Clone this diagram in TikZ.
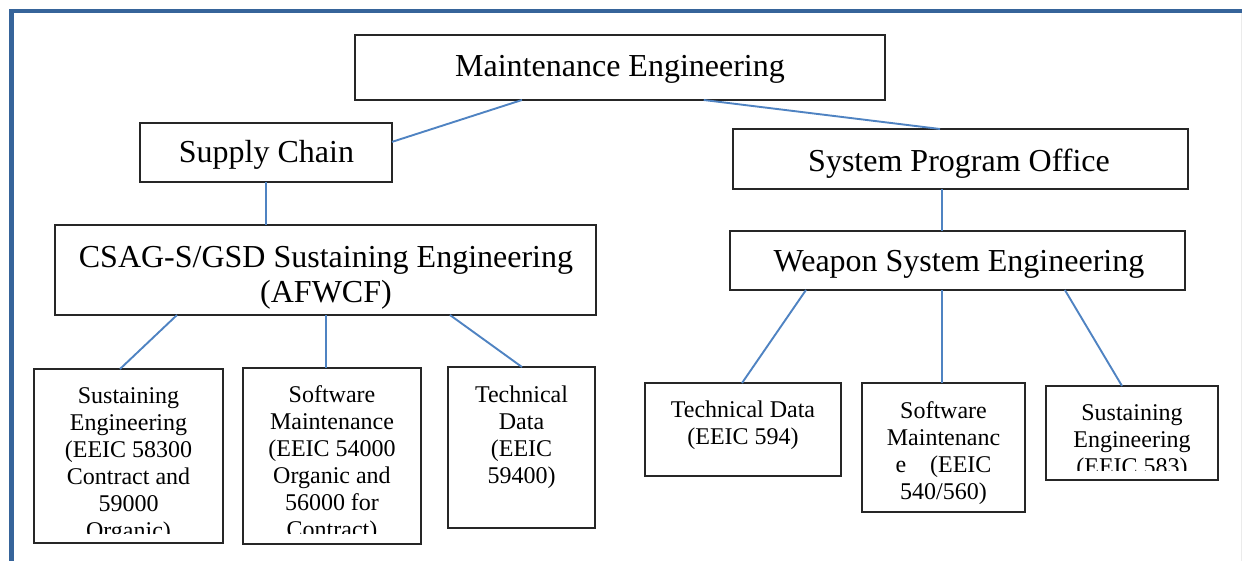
\documentclass[tikz,border=0pt]{standalone}
\usepackage{fontspec}
\setmainfont{Liberation Serif}
\usetikzlibrary{calc}
\definecolor{boxline}{HTML}{262626}
\definecolor{conn}{HTML}{4F83C2}
\definecolor{framec}{HTML}{36649A}
\begin{document}
\begin{tikzpicture}[x=1pt,y=-1pt,
  box/.style={draw=boxline, line width=2.6pt, inner sep=0pt, outer sep=0pt, anchor=north west},
  head/.style={font=\fontsize{32}{35}\selectfont, align=center, anchor=base, inner sep=0pt},
  small/.style={font=\fontsize{24}{27}\selectfont, align=center, anchor=base, inner sep=0pt},
  link/.style={draw=conn, line width=1.9pt}]
\useasboundingbox (0,0) rectangle (1242,561);
% frame
\draw[framec, line width=4.5pt] (11.5,561) -- (11.5,11) -- (1242,11);
\draw[black!8, line width=1pt] (1241,13) -- (1241,561);

% boxes
\node[box, minimum width=530pt, minimum height=65pt] (me) at (355,35) {};
\node[box, minimum width=252pt, minimum height=59pt] (sc) at (140,123) {};
\node[box, minimum width=455pt, minimum height=60pt] (spo) at (733,129) {};
\node[box, minimum width=541pt, minimum height=90pt] (csag) at (55,225) {};
\node[box, minimum width=455pt, minimum height=59pt] (wse) at (730,231) {};
\node[box, minimum width=189pt, minimum height=174pt] (l1) at (34,369) {};
\node[box, minimum width=178pt, minimum height=176pt] (l2) at (243,368) {};
\node[box, minimum width=147pt, minimum height=161pt] (l3) at (448,367) {};
\node[box, minimum width=196pt, minimum height=93pt] (r1) at (645,383) {};
\node[box, minimum width=163pt, minimum height=129pt] (r2) at (862,383) {};
\node[box, minimum width=172pt, minimum height=94pt] (r3) at (1046,386) {};

% header texts (anchor base = baseline of the last line)
\node[head] (met) at (620,77) {Maintenance Engineering};
\node[head] (sct) at (266.5,163) {Supply Chain};
\node[head] (spot) at (959,172) {System Program Office};
\node[head] (csagt) at (326,302) {CSAG-S/GSD Sustaining Engineering\\(AFWCF)};
\node[head] (wset) at (959,272) {Weapon System Engineering};

% bottom texts (anchor base = baseline of the last line)
\begin{scope}
\clip (l1.north west) rectangle ($(l1.south east)+(0,-10)$);
\node[small] (l1t) at ($(l1.north)+(0,169)$) {Sustaining\\Engineering\\(EEIC 58300\\Contract and\\59000\\Organic)};
\end{scope}
\begin{scope}
\clip (l2.north west) rectangle ($(l2.south east)+(0,-11)$);
\node[small] (l2t) at ($(l2.north)+(0,169)$) {Software\\Maintenance\\(EEIC 54000\\Organic and\\56000 for\\Contract)};
\end{scope}
\node[small] (l3t) at ($(l3.north)+(0,116)$) {Technical\\Data\\(EEIC\\59400)};
\node[small] (r1t) at ($(r1.north)+(0,61)$) {Technical Data\\(EEIC 594)};
\node[small] (r2t) at ($(r2.north)+(0,116)$) {Software\\Maintenanc\\e\hspace{1em}(EEIC\\540/560)};
\begin{scope}
\clip (r3.north west) rectangle ($(r3.south east)+(0,-10)$);
\node[small] (r3t) at ($(r3.north)+(0,88)$) {Sustaining\\Engineering\\(EEIC 583)};
\end{scope}

% connectors
\draw[link] ($(me.south west)!0.315!(me.south east)$) -- ($(sc.north east)!0.32!(sc.south east)$);
\draw[link] ($(me.south west)!0.658!(me.south east)$) -- ($(spo.north west)!0.455!(spo.north east)$);
\draw[link] (sc.south) -- (sc.south |- csag.north);
\draw[link] ($(spo.south west)!0.459!(spo.south east)$) coordinate (spob) -- (spob |- wse.north);
\draw[link] ($(csag.south west)!0.2255!(csag.south east)$) -- ($(l1.north west)!0.455!(l1.north east)$);
\draw[link] ($(csag.south west)!0.501!(csag.south east)$) coordinate (csb) -- (csb |- l2.north);
\draw[link] ($(csag.south west)!0.730!(csag.south east)$) -- ($(l3.north west)!0.503!(l3.north east)$);
\draw[link] ($(wse.south west)!0.167!(wse.south east)$) -- ($(r1.north west)!0.495!(r1.north east)$);
\draw[link] ($(wse.south west)!0.466!(wse.south east)$) coordinate (wsb) -- (wsb |- r2.north);
\draw[link] ($(wse.south west)!0.736!(wse.south east)$) -- ($(r3.north west)!0.442!(r3.north east)$);
\end{tikzpicture}
\end{document}
